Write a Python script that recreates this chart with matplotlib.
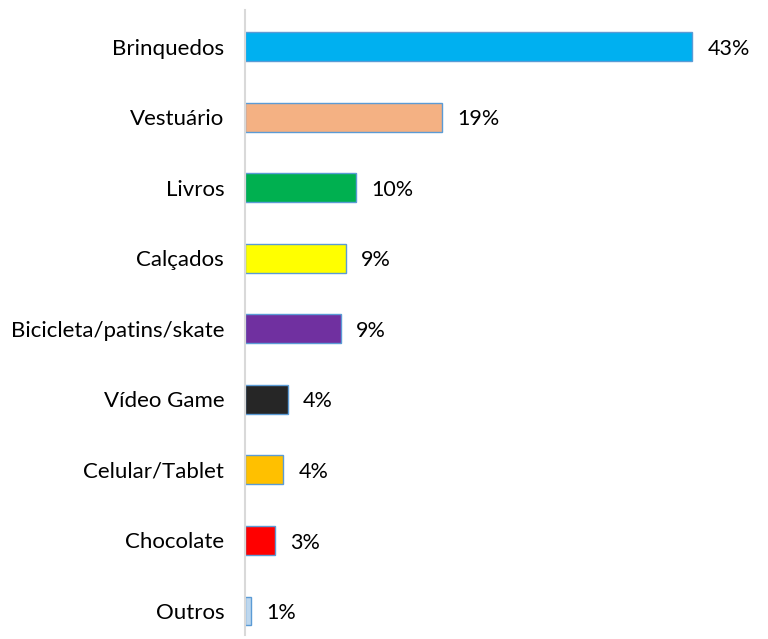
import matplotlib
matplotlib.use("Agg")
import matplotlib.pyplot as plt

categories = ["Brinquedos", "Vestuário", "Livros", "Calçados", "Bicicleta/patins/skate",
              "Vídeo Game", "Celular/Tablet", "Chocolate", "Outros"]
values = [43.0, 18.9, 10.7, 9.7, 9.2, 4.1, 3.7, 2.9, 0.6]
labels = ["43%", "19%", "10%", "9%", "9%", "4%", "4%", "3%", "1%"]
colors = ["#00B0F0", "#F4B183", "#00B050", "#FFFF00", "#7030A0",
          "#262626", "#FFC000", "#FF0000", "#BDD7EE"]

plt.rcParams['font.family'] = ['Lato', 'DejaVu Sans']

fig = plt.figure(figsize=(7.68, 6.39), dpi=100)
ax = fig.add_axes([245/768, 4/639, (760-245)/768, (635-10)/639])

y = list(range(len(categories)))
ax.barh(y, values, height=0.41, color=colors, edgecolor="#5B9BD5", linewidth=1.0)
for yi, v, lab in zip(y, values, labels):
    ax.annotate(lab, (v, yi), xytext=(11, -1.5), textcoords="offset points",
                va="center", ha="left", fontsize=15.5, color="#000000")

ax.set_ylim(8.34, -0.52)
ax.set_xlim(0, 49.5)
ax.set_yticks(y)
ax.set_yticklabels(categories, fontsize=16)
ax.tick_params(axis="y", length=0, pad=15)
ax.set_xticks([])
for s in ["top", "right", "bottom"]:
    ax.spines[s].set_visible(False)
ax.spines["left"].set_color("#D9D9D9")
ax.spines["left"].set_linewidth(1.5)

fig.savefig("out.png", dpi=100)
